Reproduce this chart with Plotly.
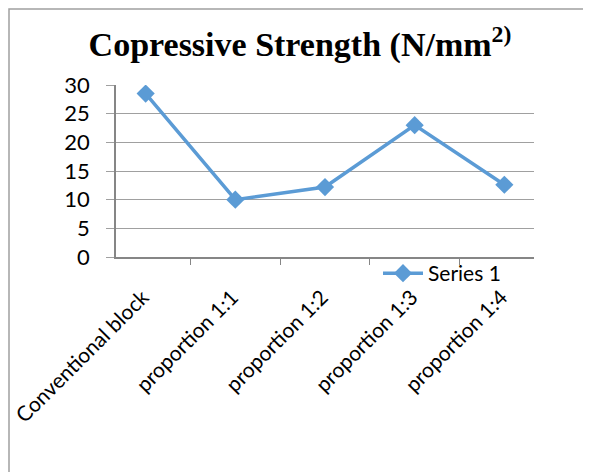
import plotly.graph_objects as go

categories = ["Conventional block", "proportion 1:1", "proportion 1:2", "proportion 1:3", "proportion 1:4"]
values = [28.5, 10.0, 12.2, 23.0, 12.6]
series_name = "Series 1"
y_ticks = [0, 5, 10, 15, 20, 25, 30]

# the page body adds an 8px offset; the figure is sized to fill the rest of the window
OFF = 8
W, H = 591 - OFF, 472 - OFF
L, T = 116 - OFF, 85 - OFF
pw, ph = 418, 172
R, B = W - L - pw, H - T - ph

def px_x(sx):
    return (sx - OFF - L) / pw

def px_y(sy):
    return (T + ph - (sy - OFF)) / ph

fig = go.Figure()
fig.add_trace(go.Scatter(
    x=categories, y=values, name=series_name, mode="lines+markers",
    line=dict(color="#5B9BD5", width=3.5),
    marker=dict(symbol="diamond", size=14, color="#5B9BD5"),
))

fig.update_layout(
    width=W, height=H,
    margin=dict(l=L, r=R, t=T, b=B, autoexpand=False),
    paper_bgcolor="white", plot_bgcolor="white",
    title=dict(
        text="<b>Copressive Strength (N/mm<sup>2)</sup></b>",
        font=dict(family="Liberation Serif", size=34, color="black"),
        x=(300 - OFF) / W, xanchor="center", xref="container",
        y=1 - (44 - OFF) / H, yanchor="middle", yref="container",
    ),
    showlegend=True,
    legend=dict(
        xref="paper", yref="paper",
        x=px_x(378), y=px_y(253), xanchor="left", yanchor="top",
        font=dict(family="Lato", size=21, color="black"),
        bgcolor="rgba(0,0,0,0)", itemwidth=40,
    ),
    font=dict(family="Lato", color="black"),
)

fig.update_xaxes(
    type="category", tickson="boundaries", ticks="outside", ticklen=6,
    tickcolor="#868686", showline=True, linecolor="#868686", linewidth=1.5,
    showgrid=False, tickangle=-45, automargin=False,
    ticklabelstandoff=18, ticklabelshift=-3,
    tickfont=dict(family="Lato", size=21, color="black"),
)
fig.update_yaxes(
    range=[0, 30], tickvals=y_ticks, ticks="outside", ticklen=8,
    tickcolor="#a0a0a0", showline=True, linecolor="#868686", linewidth=1.5,
    showgrid=True, gridcolor="#a0a0a0", gridwidth=1.2, zeroline=False,
    automargin=False, ticklabelstandoff=12,
    tickfont=dict(family="Lato", size=22, color="black"),
)

fig.add_shape(
    type="rect", xref="paper", yref="paper",
    x0=px_x(OFF + 1), x1=px_x(640), y0=px_y(520), y1=px_y(OFF + 1),
    line=dict(color="#a0a0a0", width=1.5), fillcolor="rgba(0,0,0,0)",
    layer="below",
)

fig.write_html("out.html")
